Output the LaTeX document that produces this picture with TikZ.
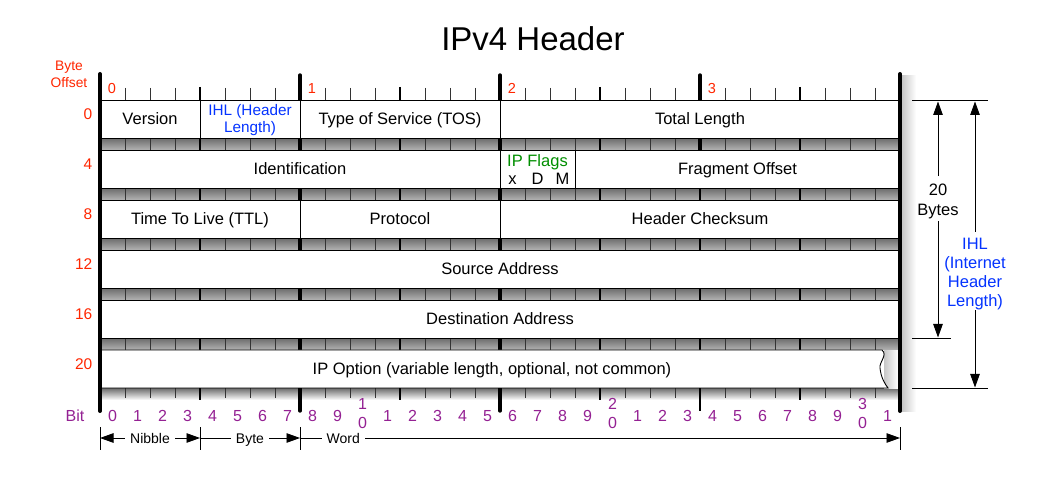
\documentclass[tikz,border=0pt]{standalone}
\usepackage{fontspec}
\setmainfont{Liberation Sans}
\usetikzlibrary{arrows.meta}
\definecolor{offred}{RGB}{255,38,0}
\definecolor{ihlblue}{RGB}{4,51,255}
\definecolor{flaggreen}{RGB}{0,143,0}
\definecolor{bitpurple}{RGB}{148,33,147}
\begin{document}
\begin{tikzpicture}[x=1pt,y=-1pt,
  >={Triangle[length=13.5pt,width=9.5pt]},
  txt/.style={font=\fontsize{16.5}{19}\selectfont, inner sep=0pt, outer sep=0pt, text height=11.8pt, text depth=0pt},
  smalltxt/.style={font=\fontsize{15.3}{17}\selectfont, inner sep=0pt, outer sep=0pt, text height=10.9pt, text depth=0pt},
  field/.style={txt, draw=black, line width=0.9pt, fill=white, minimum height=38pt},
  bittick/.style={draw=black!80, line width=0.8pt},
  nibtick/.style={draw=black, line width=2.2pt},
  bytetick/.style={draw=black, line width=3.4pt, line cap=round},
  sidebar/.style={draw=black, line width=4pt, line cap=round},
  band/.style={top color=black!58, bottom color=black!30},
  offs/.style={font=\fontsize{15.5}{18}\selectfont, text=offred, inner sep=0pt, text height=11.1pt, text depth=0pt, anchor=east},
  bytenum/.style={font=\fontsize{14.5}{16}\selectfont, text=offred, inner sep=0pt, text height=10.3pt, text depth=0pt},
  bitnum/.style={font=\fontsize{16}{19}\selectfont, text=bitpurple, inner sep=0pt, text height=11.5pt, text depth=0pt},
  dimlab/.style={font=\fontsize{14}{16}\selectfont, fill=white, inner xsep=5pt, inner ysep=1pt, text height=10pt, text depth=0pt},
  dimline/.style={draw=black, line width=0.9pt},
  thinline/.style={draw=black, line width=0.9pt}
]
\useasboundingbox (0,0) rectangle (1050,486);
\fill[white] (0,0) rectangle (1050,486);

% title
\node[font=\fontsize{33}{38}\selectfont, inner sep=0pt, text height=23.6pt, text depth=0pt] (title) at (533,39) {IPv4 Header};

% byte offset header
\node[font=\fontsize{13.8}{16}\selectfont, text=offred, inner sep=0pt, text height=9.9pt, text depth=0pt] (bo1) at (69,66) {Byte};
\node[font=\fontsize{13.8}{16}\selectfont, text=offred, inner sep=0pt, text height=9.9pt, text depth=0pt] (bo2) at (69,82.5) {Offset};

% grey bands between rows
\foreach \y in {138,188,238,288,338} {
  \shade[band] (100,\y) rectangle (900,\y+12);
}
\shade[top color=black!58, bottom color=white] (100,388) rectangle (900,400);

% shadow right of the right bar
\shade[left color=black!22, right color=white] (902,76) rectangle (916,411);

% ticks
\foreach \i in {1,...,31} {
  \draw[bittick] (100+25*\i,88) -- (100+25*\i,398);
}
\foreach \x in {200,400,600,800} {
  \draw[nibtick] (\x,87) -- (\x,400);
}
\foreach \x in {300,500} {
  \draw[bytetick] (\x,75) -- (\x,411);
}
\draw[bytetick] (700,75) -- (700,150);
\draw[draw=black, line width=2.6pt] (700,150) -- (700,411);

% row 0
\node[field, minimum width=100pt] (version) at (150,119) {Version};
\node[field, minimum width=100pt] (ihl) at (250,119) {};
\node[smalltxt, text=ihlblue] (ihlA) at (250,110) {IHL (Header};
\node[smalltxt, text=ihlblue] (ihlB) at (250,127) {Length)};
\node[field, minimum width=200pt] (tos) at (400,119) {Type of Service (TOS)};
\node[field, minimum width=400pt] (tlen) at (700,119) {Total Length};

% row 4
\node[field, minimum width=400pt] (ident) at (300,169) {Identification};
\node[field, minimum width=75pt] (flags) at (537.5,169) {};
\node[txt, text=flaggreen] (flagsA) at (537.5,161) {IP Flags};
\node[txt] (fx) at (512.5,178.5) {x};
\node[txt] (fd) at (537.5,178.5) {D};
\node[txt] (fm) at (562.5,178.5) {M};
\node[field, minimum width=325pt] (frag) at (737.5,169) {Fragment Offset};

% row 8
\node[field, minimum width=200pt] (ttl) at (200,219) {Time To Live (TTL)};
\node[field, minimum width=200pt] (proto) at (400,219) {Protocol};
\node[field, minimum width=400pt] (chk) at (700,219) {Header Checksum};

% row 12, 16
\node[field, minimum width=800pt] (src) at (500,269) {Source Address};
\node[field, minimum width=800pt] (dst) at (500,319) {Destination Address};

% row 20 (torn edge)
\fill[white] (880,350) rectangle (900,388);
\shade[left color=black!22, right color=white] (884,351) rectangle (898,389);
\draw[thinline, fill=white] (100,350) -- (882,350) .. controls (888,355) and (879,362) .. (880,368)
  .. controls (881,378) and (885,384) .. (888,388) -- (100,388) -- cycle;
\node[txt] (ipopt) at (492,369) {IP Option (variable length, optional, not common)};

% side bars
\draw[sidebar] (100,74) -- (100,411);
\draw[sidebar] (900,74) -- (900,411);

% byte numbers on top ruler
\node[bytenum] (b0) at (112,88) {0};
\node[bytenum] (b1) at (312,88) {1};
\node[bytenum] (b2) at (512,88) {2};
\node[bytenum] (b3) at (712,88) {3};

% row offsets
\node[offs] (o0) at (92.5,113.7) {0};
\node[offs] (o4) at (92.5,163.7) {4};
\node[offs] (o8) at (92.5,213.7) {8};
\node[offs] (o12) at (92.5,263.7) {12};
\node[offs] (o16) at (92.5,313.7) {16};
\node[offs] (o20) at (92.5,363.7) {20};

% bit numbers
\node[bitnum] (bitlbl) at (75,415.5) {Bit};
\foreach \i in {0,...,31} {
  \pgfmathtruncatemacro{\d}{mod(\i,10)}
  \pgfmathtruncatemacro{\t}{div(\i,10)}
  \ifnum\d=0
    \ifnum\i>0
      \node[bitnum] (bitT\i) at (112.5+25*\i,404) {\t};
      \node[bitnum] (bitU\i) at (112.5+25*\i,423) {0};
    \else
      \node[bitnum] (bit\i) at (112.5+25*\i,415.5) {\d};
    \fi
  \else
    \node[bitnum] (bit\i) at (112.5+25*\i,415.5) {\d};
  \fi
}

% dimension lines
\foreach \x in {100,200,300,900} {
  \draw[thinline] (\x,427) -- (\x,450);
}
\coordinate (d0) at (100,438);
\coordinate (d1) at (200,438);
\coordinate (d2) at (300,438);
\coordinate (d3) at (900,438);
\draw[dimline, <->] (d0) -- node[dimlab] (nib) {Nibble} (d1);
\draw[dimline, ->] (d1) -- node[dimlab] (byt) {Byte} (d2);
\draw[dimline, ->] (d2) -- node[dimlab, pos=0.072] (wrd) {Word} (d3);

% right annotations
\draw[thinline] (912,100.5) -- (988,100.5);
\draw[thinline] (912,338) -- (951,338);
\draw[thinline] (912,388) -- (988,388);
\coordinate (bt) at (938,101.5);
\coordinate (bb) at (938,337.5);
\coordinate (it) at (975,101.5);
\coordinate (ib) at (975,387.5);
\node[txt] (tw) at (938,190) {20};
\node[txt] (by) at (938,210) {Bytes};
\draw[dimline, ->] ([yshift=8pt]tw.north) -- (bt);
\draw[dimline, ->] ([yshift=-5pt]by.south) -- (bb);
\node[txt, text=ihlblue] (il1) at (975,243.5) {IHL};
\node[txt, text=ihlblue] (il2) at (975,263) {(Internet};
\node[txt, text=ihlblue] (il3) at (975,282) {Header};
\node[txt, text=ihlblue] (il4) at (975,301) {Length)};
\draw[dimline, ->] ([yshift=6pt]il1.north) -- (it);
\draw[dimline, ->] ([yshift=-3.5pt]il4.south) -- (ib);
\end{tikzpicture}
\end{document}
